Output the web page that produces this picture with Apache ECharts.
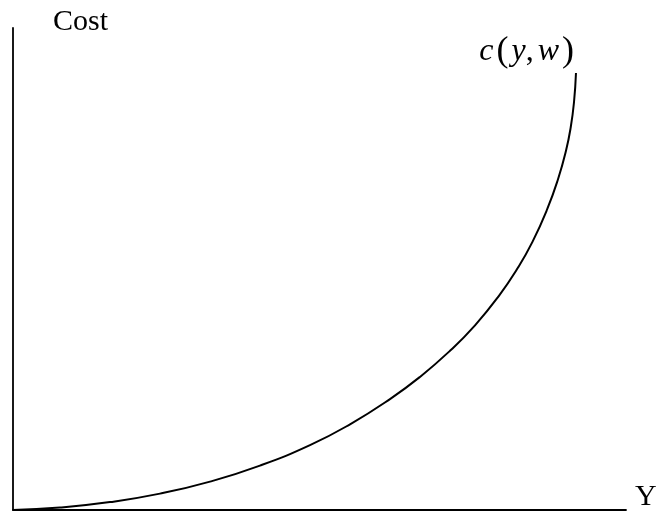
<!DOCTYPE html>
<html>
<head>
<meta charset="utf-8">
<script src="https://cdn.jsdelivr.net/npm/echarts@6/dist/echarts.min.js"></script>
<style>
html,body{margin:0;padding:0;background:#fff;}
#chart{width:660px;height:512px;}
</style>
</head>
<body>
<div id="chart"></div>
<script>
// Output (Y) and cost values
var outputY = [0, 7.67, 15.82, 23.98, 32.14, 40.29, 48.45, 54.98, 61.50, 66.39, 71.29, 75.37, 79.27, 82.36, 84.76, 87.16, 88.92, 90.20, 90.99, 91.52, 91.84];
var costValues = [0, 0.50, 1.64, 3.40, 5.89, 9.21, 13.46, 17.78, 23.01, 27.61, 33.03, 38.32, 44.44, 50.25, 55.68, 62.45, 68.67, 74.48, 79.46, 84.65, 90.66];
var xAxisName = 'Y';
var yAxisName = 'Cost';

var data = outputY.map(function (x, i) { return [x, costValues[i]]; });
var serif = "'Liberation Serif', 'Times New Roman', serif";

var chart = echarts.init(document.getElementById('chart'), null, {renderer: 'canvas'});
chart.setOption({
  animation: false,
  backgroundColor: '#ffffff',
  grid: {left: 13, right: 34, top: 28, bottom: 2, containLabel: false},
  xAxis: {
    type: 'value', min: 0, max: 100,
    name: xAxisName, nameLocation: 'end', nameGap: 9,
    nameTextStyle: {fontFamily: serif, fontSize: 30, color: '#000', verticalAlign: 'bottom', padding: [0, 0, -2, 0]},
    axisLine: {show: true, lineStyle: {color: '#000', width: 1.8}},
    axisTick: {show: false}, axisLabel: {show: false}, splitLine: {show: false}
  },
  yAxis: {
    type: 'value', min: 0, max: 100,
    name: yAxisName, nameLocation: 'end', nameGap: -9,
    nameTextStyle: {fontFamily: serif, fontSize: 30, color: '#000', align: 'left', verticalAlign: 'bottom', padding: [0, 0, 0, 40]},
    axisLine: {show: true, lineStyle: {color: '#000', width: 1.8}},
    axisTick: {show: false}, axisLabel: {show: false}, splitLine: {show: false}
  },
  series: [{
    type: 'line', name: 'c(y,w)', data: data, smooth: 0.5, showSymbol: false,
    lineStyle: {color: '#000', width: 2},
    endLabel: {
      show: true,
      formatter: function () { return '{i|c}{p|(}{i|y}{n|,}{i|w}{p|)}'; },
      align: 'right', verticalAlign: 'middle', offset: [-7, -21],
      rich: {
        i: {fontFamily: serif, fontStyle: 'italic', fontSize: 32, color: '#000'},
        n: {fontFamily: serif, fontSize: 32, color: '#000', padding: [0, 4, 0, 0]},
        p: {fontFamily: serif, fontSize: 36, color: '#000', padding: [0, 3, 0, 3]}
      }
    }
  }]
});
</script>
</body>
</html>
